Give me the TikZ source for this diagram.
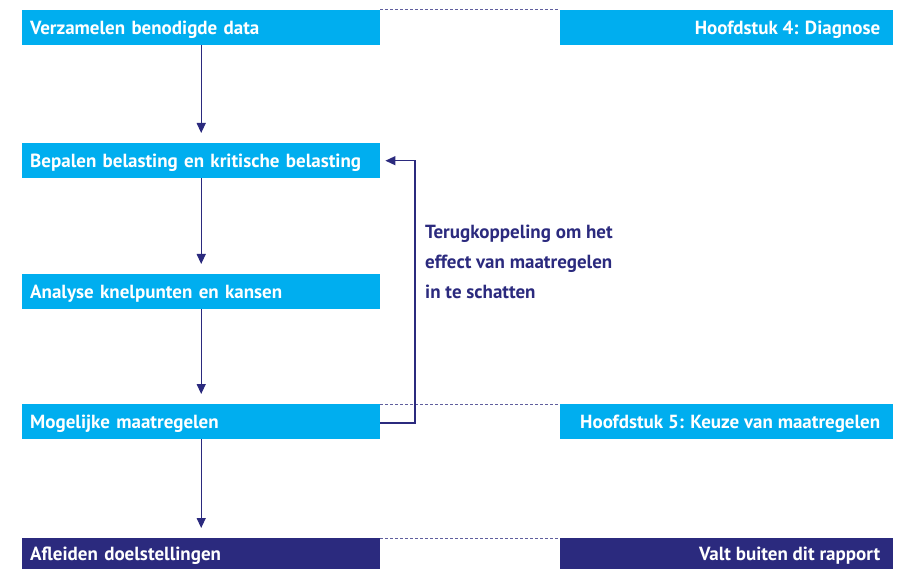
\documentclass[tikz,border=0pt]{standalone}
\usepackage{fontspec}
\setmainfont{PT Sans}
\usepackage{tikz}
\usetikzlibrary{arrows.meta}

\definecolor{cyaan}{HTML}{00AEEF}
\definecolor{nachtblauw}{HTML}{2B2A7E}

\newcommand\rechtstekst[1]{\makebox[307pt][r]{#1}}

\tikzset{
  stapbox/.style={fill=cyaan, text=white, font=\fontsize{19}{22}\selectfont\bfseries,
    minimum height=35pt, inner ysep=0pt, text height=13.5pt, text depth=0pt, anchor=north west},
  linksbox/.style={stapbox, inner xsep=0pt, text width=342pt, minimum width=358pt, align=left},
  rechtsbox/.style={stapbox, inner xsep=13pt, minimum width=333pt},
  donker/.style={fill=nachtblauw},
  pijl/.style={draw=nachtblauw, line width=1.3pt, -{Triangle[width=9pt,length=10pt]}},
  stippel/.style={draw=nachtblauw!75, line width=1pt, dash pattern=on 2.5pt off 2.5pt}
}

\begin{document}
\begin{tikzpicture}[x=1pt,y=-1pt]
  \useasboundingbox (0,0) rectangle (905,569);

  % stappen links
  \node[linksbox] (verzamelen) at (22,10) {Verzamelen benodigde data};
  \node[linksbox] (bepalen) at (22,143) {Bepalen belasting en kritische belasting};
  \node[linksbox] (analyse) at (22,274) {Analyse knelpunten en kansen};
  \node[linksbox] (maatregelen) at (22,404) {Mogelijke maatregelen};
  \node[linksbox, donker, minimum height=31pt] (afleiden) at (22,538) {Afleiden doelstellingen};

  % hoofdstukken rechts
  \node[rechtsbox] (diagnose) at (560,10) {\rechtstekst{Hoofdstuk 4: Diagnose}};
  \node[rechtsbox] (keuze) at (560,404) {\rechtstekst{Hoofdstuk 5: Keuze van maatregelen}};
  \node[rechtsbox, donker, minimum height=31pt] (buiten) at (560,538) {\rechtstekst{Valt buiten dit rapport}};

  % stippellijnen
  \draw[stippel] (verzamelen.north east) -- (diagnose.north west);
  \draw[stippel] (maatregelen.north east) -- (keuze.north west);
  \draw[stippel] (afleiden.north east) -- (buiten.north west);

  % pijlen
  \draw[pijl, shorten >=10pt] (verzamelen) -- (bepalen);
  \draw[pijl, shorten >=10pt] (bepalen) -- (analyse);
  \draw[pijl, shorten >=10pt] (analyse) -- (maatregelen);
  \draw[pijl, shorten >=10pt] (maatregelen) -- (afleiden);

  % terugkoppeling
  \coordinate (hoek) at (415,423);
  \draw[pijl, shorten >=5pt] (maatregelen.east |- hoek) -- (hoek) |- (bepalen.east);
  \node[anchor=north west, text=nachtblauw, font=\fontsize{19}{30}\selectfont\bfseries,
    align=left, inner sep=0pt] (tekst) at (425,225)
    {Terugkoppeling om het\\effect van maatregelen\\in te schatten};
\end{tikzpicture}
\end{document}
